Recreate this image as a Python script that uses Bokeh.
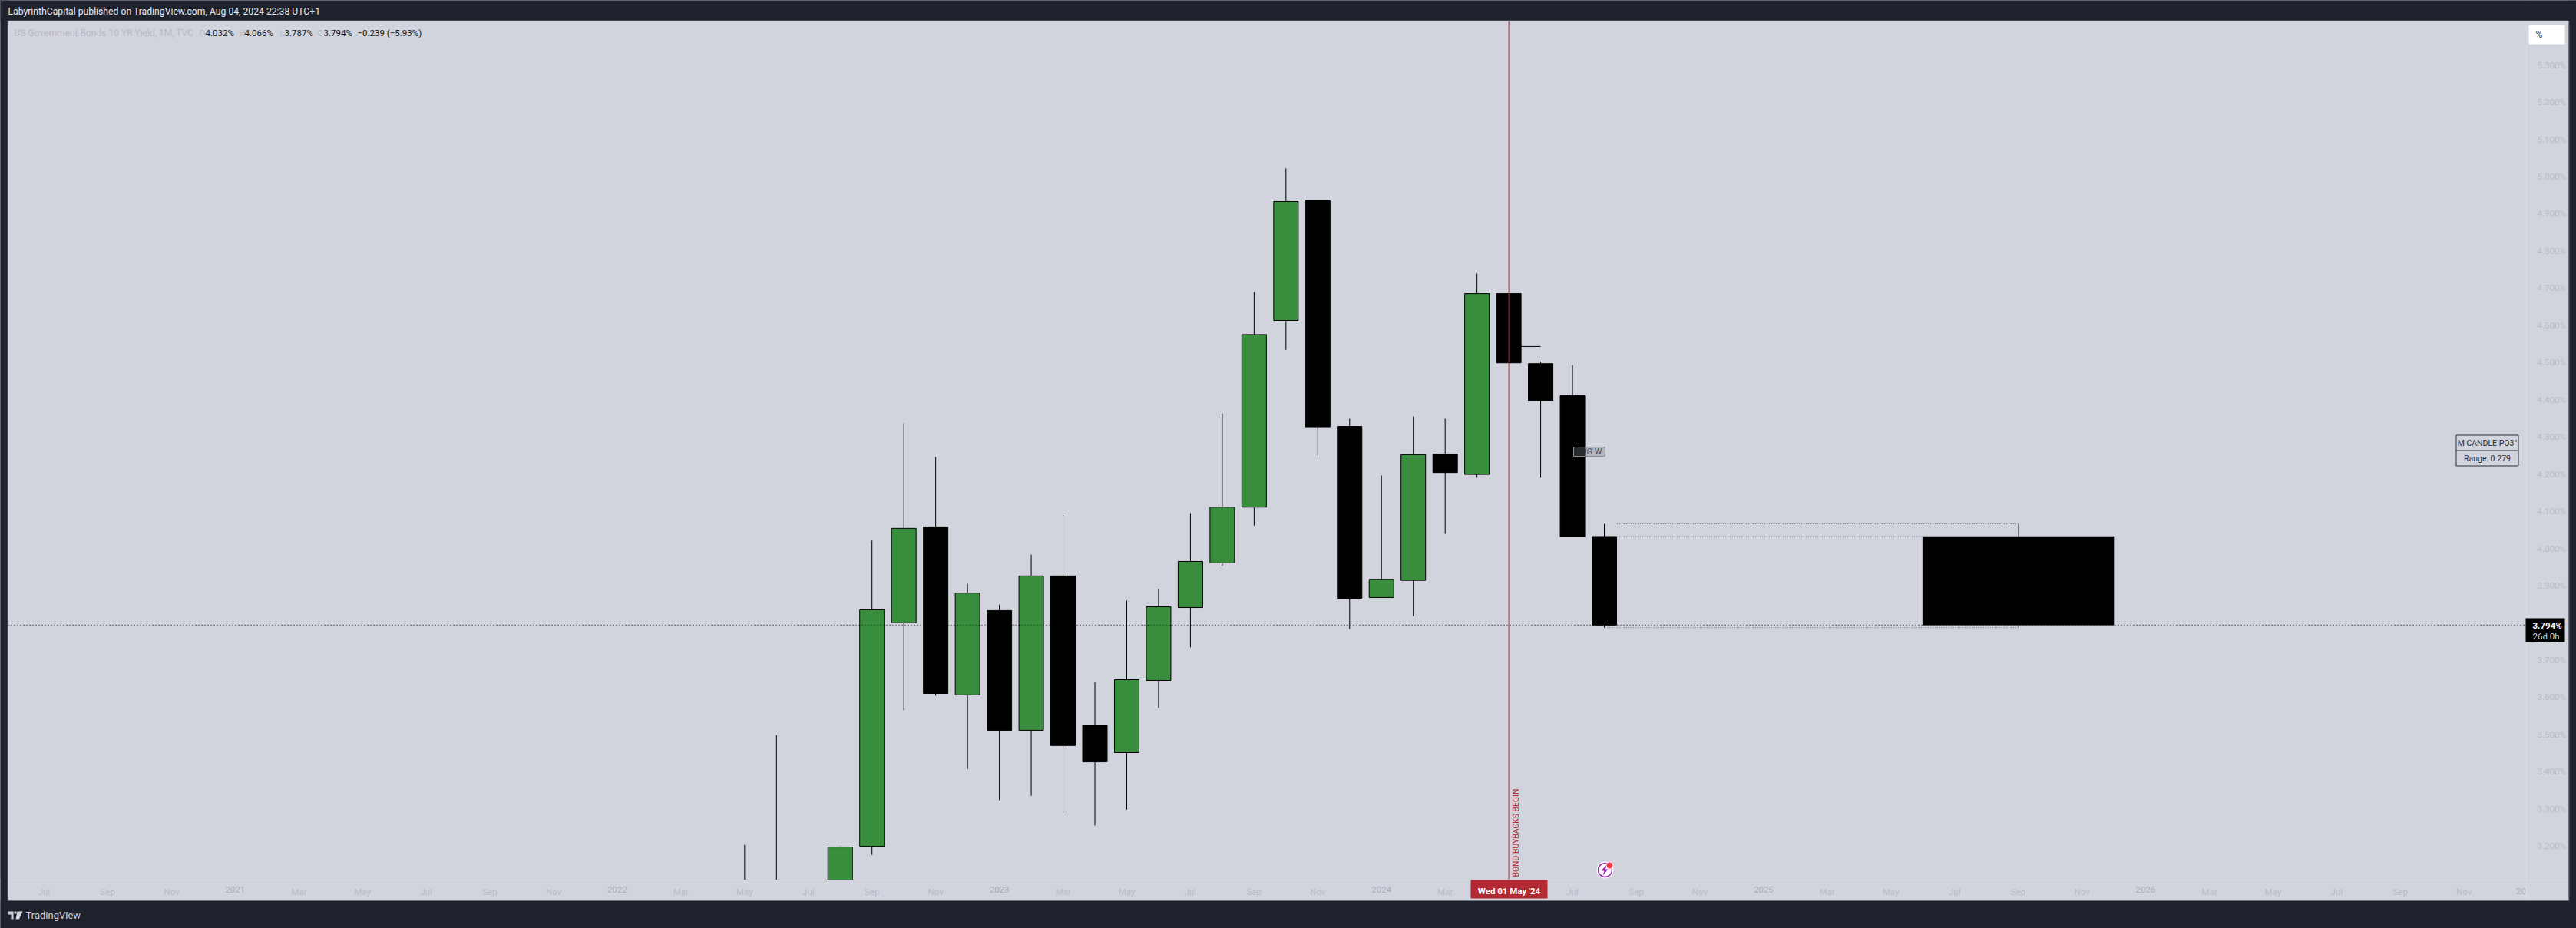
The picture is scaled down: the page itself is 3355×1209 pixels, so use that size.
from bokeh.plotting import figure
from bokeh.embed import file_html
from bokeh.resources import INLINE
from bokeh.models import (BoxAnnotation, Label, PolyAnnotation, FixedTicker, PrintfTickFormatter,
                          Range1d, ColumnDataSource, LinearAxis)
from bokeh.core.properties import value
import numpy as np

# ---------- data ----------
first_index = 22   # May 2022, in months since Jul 2020
opens  = [2.89, 2.85, 3.01, 2.65, 3.199, 3.800, 4.058, 3.606, 3.833, 3.511, 3.926, 3.525, 3.451, 3.645, 3.841,
          3.961, 4.111, 4.613, 4.935, 4.328, 3.868, 3.914, 4.254, 4.199, 4.685, 4.497, 4.411, 4.032]
highs  = [3.203, 3.498, 3.09, 3.199, 4.021, 4.336, 4.246, 3.905, 3.849, 3.983, 4.089, 3.641, 3.860, 3.891, 4.095,
          4.363, 4.689, 5.022, 4.935, 4.349, 4.196, 4.355, 4.349, 4.739, 4.685, 4.502, 4.493, 4.066]
lows   = [2.70, 2.85, 2.52, 2.52, 3.176, 3.565, 3.604, 3.406, 3.323, 3.335, 3.288, 3.255, 3.298, 3.571, 3.734,
          3.953, 4.061, 4.534, 4.249, 3.783, 3.868, 3.818, 4.039, 4.190, 4.499, 4.190, 4.031, 3.787]
closes = [2.84, 3.01, 2.65, 3.197, 3.835, 4.054, 3.610, 3.880, 3.511, 3.926, 3.470, 3.426, 3.647, 3.843, 3.965,
          4.111, 4.575, 4.933, 4.327, 3.866, 3.917, 4.252, 4.204, 4.685, 4.499, 4.398, 4.031, 3.794]

time_labels = ["Jul", "Sep", "Nov", "2021", "Mar", "May", "Jul", "Sep", "Nov", "2022", "Mar", "May",
               "Jul", "Sep", "Nov", "2023", "Mar", "May", "Jul", "Sep", "Nov", "2024", "Mar", "May",
               "Jul", "Sep", "Nov", "2025", "Mar", "May", "Jul", "Sep", "Nov", "2026", "Mar", "May",
               "Jul", "Sep", "Nov"]
price_ticks = [3.2, 3.3, 3.4, 3.5, 3.6, 3.7, 3.8, 3.9, 4.0, 4.1, 4.2, 4.3, 4.4, 4.5, 4.6, 4.7, 4.8, 4.9, 5.0, 5.1, 5.2, 5.3]

last_close = 3.794
last_high = 4.066
last_low = 3.787
last_open = 4.032
last_index = 49
marker_index = 46        # May 2024, red vertical line
box_end_index = 62       # dotted levels end
po3_start_index = 59     # black projected block
po3_end_index = 65
sweep_level = 4.543

# ---------- page geometry ----------
W, H = 3355, 1209
PANE_L, PANE_T, PANE_R, PANE_B = 10, 27, 3345, 1173
FRAME_R, FRAME_B = 3290, 1146
PX_PER_BAR = 41.47
X0 = 57
PX_PER_UNIT = 484.5
Y4 = 714

DARK = "#1e222d"
PANE = "#d1d4dc"
FAINT = "#b9bcc6"
YEAR = "#abaeb9"
RED = "#b22833"
GREEN = "#388e3c"
FONT = "Roboto"

def xd(px): return (px - X0) / PX_PER_BAR
def yd(py): return 4 - (py - Y4) / PX_PER_UNIT

p = figure(width=W, height=H, output_backend="svg", toolbar_location=None,
           x_range=Range1d(xd(0), xd(W)), y_range=Range1d(yd(H), yd(0)),
           y_axis_location="right",
           min_border_left=0, min_border_top=0, min_border_right=0, min_border_bottom=0)
p.background_fill_color = PANE
p.border_fill_color = PANE
p.outline_line_color = None
p.grid.visible = False

month_ticks = {2 * i: t for i, t in enumerate(time_labels) if not t.startswith("20")}
year_ticks = {2 * i: t for i, t in enumerate(time_labels) if t.startswith("20")}

def style_time_axis(axis, labels, color):
    axis.fixed_location = yd(FRAME_B)
    axis.ticker = FixedTicker(ticks=list(labels))
    axis.major_label_overrides = labels
    axis.major_tick_line_color = None
    axis.minor_tick_line_color = None
    axis.axis_line_color = "#d9dbe2"
    axis.major_label_text_color = color
    axis.major_label_text_font = FONT
    axis.major_label_text_font_size = "11.5px"
    axis.major_label_standoff = 2

style_time_axis(p.xaxis[0], month_ticks, FAINT)
year_axis = LinearAxis()
style_time_axis(year_axis, year_ticks, YEAR)
p.add_layout(year_axis, "below")

ay = p.yaxis[0]
ay.fixed_location = xd(FRAME_R)
ay.ticker = FixedTicker(ticks=price_ticks)
ay.formatter = PrintfTickFormatter(format="%.3f%%")
ay.major_tick_line_color = None
ay.minor_tick_line_color = None
ay.axis_line_color = "#d9dbe2"
ay.major_label_text_color = FAINT
ay.major_label_text_font = FONT
ay.major_label_text_font_size = "11.5px"
ay.major_label_standoff = 8

# ---------- candles ----------
idx = np.arange(first_index, first_index + len(opens))
o, h, l, c = map(np.array, (opens, highs, lows, closes))
up = c >= o
src = ColumnDataSource(dict(x=idx, top=np.maximum(o, c), bottom=np.minimum(o, c), high=h, low=l,
                            color=[GREEN if u else "#000000" for u in up]))
p.segment("x", "high", "x", "low", source=src, line_color="#000000", line_width=1)
p.vbar("x", width=32 / PX_PER_BAR, top="top", bottom="bottom", source=src, fill_color="color", line_color="#000000", line_width=1)

# ---------- drawings ----------
p.segment([marker_index], [sweep_level], [marker_index + 1], [sweep_level], line_color="#000000", line_width=1)
p.segment([last_index + 0.4], [last_high], [box_end_index], [last_high], line_color="#6a6d78", line_width=1, line_dash="1 2")
p.segment([last_index + 0.4], [last_open], [po3_start_index], [last_open], line_color="#6a6d78", line_width=1, line_dash="1 2")
p.segment([last_index + 0.1], [last_low], [box_end_index], [last_low], line_color="#6a6d78", line_width=1, line_dash="1 2")
p.quad(left=[po3_start_index], right=[po3_end_index], top=[last_open], bottom=[last_close], fill_color="#000000", line_color="#000000", line_width=0.5)
p.segment([box_end_index], [last_high], [box_end_index], [last_open], line_color="#6a6d78", line_width=1)
p.segment([box_end_index], [last_close], [box_end_index], [last_low], line_color="#6a6d78", line_width=1)
p.segment([xd(PANE_L)], [last_close], [xd(FRAME_R)], [last_close], line_color="#000000", line_width=1, line_dash="1 3")
p.segment([marker_index], [yd(PANE_T)], [marker_index], [yd(FRAME_B)], line_color=RED, line_width=1)

# time-axis strip hides what runs below the pane (drawn under the axis labels)
p.quad(left=[xd(0)], right=[xd(W)], top=[yd(FRAME_B)], bottom=[yd(H)], fill_color=PANE, line_color=None)

# FVG label
p.quad(left=[xd(2049)], right=[xd(2090)], top=[yd(582)], bottom=[yd(594)], fill_color="#787b86", fill_alpha=0.35,
       line_color="#8a8c96", line_width=1)
p.text(x=[xd(2069.5)], y=[yd(587.5)], text=["FVG W"], text_font=value(FONT), text_font_size="11px", text_color="#2a2e39",
       text_alpha=0.75, text_align="center", text_baseline="middle")

# rotated note
p.text(x=[xd(1974)], y=[yd(1142)], text=["BOND BUYBACKS BEGIN"], angle=[np.pi / 2], text_font=value(FONT), text_font_size="10.4px",
       text_color=RED, text_align="left", text_baseline="middle")

# PO3 table
p.quad(left=[xd(3198.5)], right=[xd(3279.5)], top=[yd(566.5)], bottom=[yd(606.5)], fill_color=None, line_color="#2a2e39", line_width=1)
p.segment([xd(3198.5)], [yd(586.5)], [xd(3279.5)], [yd(586.5)], line_color="#2a2e39", line_width=1)
p.text(x=[xd(3239)], y=[yd(576.5)], text=["M CANDLE PO3°"], text_font=value(FONT), text_font_size="10.5px", text_color="#2a2e39",
       text_align="center", text_baseline="middle")
p.text(x=[xd(3239)], y=[yd(597)], text=["Range: 0.279"], text_font=value(FONT), text_font_size="10.5px", text_color="#2a2e39",
       text_align="center", text_baseline="middle")

# bolt icon
p.scatter([xd(2090)], [yd(1133)], size=22, marker="circle", fill_color="#ffffff", line_color=None)
p.scatter([xd(2090)], [yd(1133)], size=18, marker="circle", fill_color="#ffffff", line_color="#9c27b0", line_width=1.5)
p.patch([xd(v) for v in (2091, 2085, 2089, 2087, 2094, 2090, 2093)],
        [yd(v) for v in (1127, 1134, 1134, 1140, 1132, 1132, 1127)], fill_color="#9c27b0", line_color=None)
p.scatter([xd(2096)], [yd(1127)], size=9, marker="circle", fill_color="#f23645", line_color="#ffffff", line_width=1)

# ---------- overlays in canvas pixels ----------
def box(l_, t, r, b, color, alpha=1.0, line=None):
    a = BoxAnnotation(left=l_, right=r, top=t, bottom=b,
                      left_units="canvas", right_units="canvas", top_units="canvas", bottom_units="canvas",
                      fill_color=color, fill_alpha=alpha, line_color=line, level="annotation", editable=False)
    p.add_layout(a)

def lab(x, y, text, color, size=11, style="normal", align="left", font=FONT):
    p.add_layout(Label(x=x, y=y, x_units="canvas", y_units="canvas", text=text, text_color=color,
                       text_font=font, text_font_size=f"{size}px", text_font_style=style,
                       text_align=align, text_baseline="middle", level="annotation"))

# outer dark frame
box(0, 0, W, PANE_T, DARK)
box(0, PANE_B, W, H, DARK)
box(0, 0, PANE_L, H, DARK)
box(PANE_R, 0, W, H, DARK)
box(PANE_L, PANE_T - 1, PANE_R, PANE_T, "#62656f")
box(PANE_L, PANE_B - 1, PANE_R, PANE_B, "#62656f")
box(PANE_L - 1, PANE_T, PANE_L, PANE_B, "#62656f")
box(PANE_R, PANE_T, PANE_R + 1, PANE_B, "#62656f")

lab(10, 14, "LabyrinthCapital published on TradingView.com, Aug 04, 2024 22:38 UTC+1", "#e6e8ee", size=12.2)
lab(33, 1192, "TradingView", "#d1d4dc", size=13)

# TradingView logo
for xs, ys in ([(10, 17, 17, 14, 14, 10), (1187, 1187, 1197, 1197, 1191, 1191)],
               [(22, 29, 24.5, 20), (1187, 1187, 1197, 1197)]):
    p.add_layout(PolyAnnotation(xs=list(xs), ys=list(ys), xs_units="canvas", ys_units="canvas",
                                fill_color="#d1d4dc", fill_alpha=1, line_color=None, level="annotation", editable=False))
box(18, 1187, 21, 1190, "#d1d4dc")

# legend row
lab(18, 42, "US Government Bonds 10 YR Yield, 1M, TVC", "#b7bac4", size=12)
for x_, t_ in ((259, "O"), (311, "H"), (364, "L"), (413, "C")):
    lab(x_, 42, t_, "#b7bac4", size=11.5)
for x_, t_ in ((267, "4.032%"), (318, "4.066%"), (370, "3.787%"), (421, "3.794%"), (465, "−0.239 (−5.93%)")):
    lab(x_, 42, t_, "#131722", size=11.5)

# % button
box(3293, 32, 3340, 57, "#ffffff")
lab(3302, 44, "%", "#2a2e39", size=12)

# last price tag
box(3289, 805, 3340, 836, "#000000")
lab(3298, 814, "3.794%", "#ffffff", size=11.5, style="bold")
lab(3298, 828, "26d 0h", "#d1d4dc", size=11.5)

# date tag
box(1915, 1146, 2015, 1170, RED)
lab(1965, 1160, "Wed 01 May '24", "#ffffff", size=11.5, style="bold", align="center")

# clipped last time label
lab(3283, 1160, "20", YEAR, size=11.5, align="center")

html = file_html(p, INLINE)
html = html.replace("<head>", "<head><style>html,body{background:#1e222d;margin:0;overflow:hidden}</style>", 1)
open("out.html", "w").write(html)
